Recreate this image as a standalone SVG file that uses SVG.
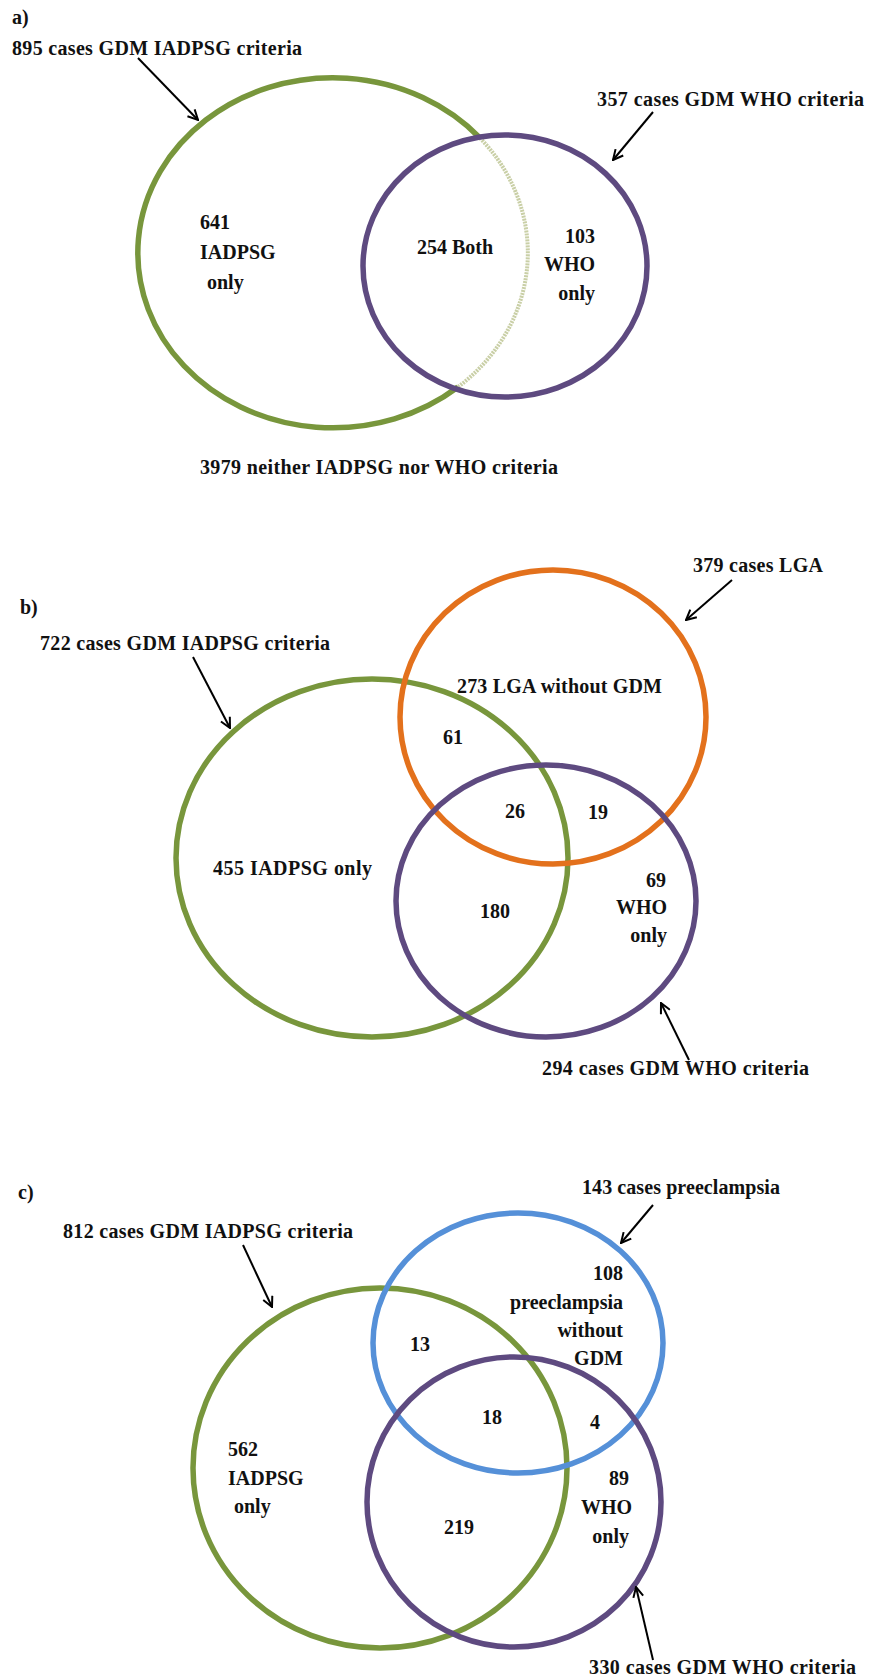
<svg xmlns="http://www.w3.org/2000/svg" width="870" height="1680" viewBox="0 0 870 1680">
<defs>
<marker id="arr" viewBox="0 0 12 12" refX="11" refY="6" markerWidth="12" markerHeight="12" markerUnits="userSpaceOnUse" orient="auto">
<path d="M1,1 L11,6 L1,11" fill="none" stroke="#000" stroke-width="2"/>
</marker>
</defs>
<style>
text{font-family:"Liberation Serif","Times New Roman",serif;font-weight:bold;font-size:20px;fill:#111}
.e{fill:none;stroke-width:5.5}
.g{stroke:#78963c}
.p{stroke:#5e4a80}
.o{stroke:#e3711c}
.b{stroke:#5590d8}
.pale{fill:none;stroke:#c9cfa6;stroke-width:4;stroke-dasharray:2 1}
.r{text-anchor:end}
.c line{stroke:#000;stroke-width:2;marker-end:url(#arr)}
</style>
<rect width="870" height="1680" fill="#fff"/>

<!-- Panel a -->
<g id="panel-a-label"><text x="12" y="24">a)</text></g>
<g id="a-iadpsg">
<path class="e g" d="M458,387 A195,175 0 1 1 480,138"/>
<path class="pale" d="M480,138 A195,175 0 0 1 458,387"/>
<text x="12" y="55" textLength="290">895 cases GDM IADPSG criteria</text>
<text x="200" y="229">641</text>
<text x="200" y="259">IADPSG</text>
<text x="207" y="289">only</text>
</g>
<g id="a-who">
<ellipse class="e p" cx="505" cy="266" rx="142" ry="131"/>
<text x="597" y="106" textLength="267">357 cases GDM  WHO criteria</text>
<text class="r" x="595" y="243">103</text>
<text class="r" x="595" y="271">WHO</text>
<text class="r" x="595" y="300">only</text>
</g>
<g id="a-both"><text x="417" y="254">254 Both</text></g>
<g id="a-neither"><text x="200" y="474" textLength="358">3979 neither IADPSG nor WHO criteria</text></g>

<!-- Panel b -->
<g id="panel-b-label"><text x="20" y="614">b)</text></g>
<g id="b-iadpsg">
<ellipse class="e g" cx="372" cy="858" rx="196" ry="179"/>
<text x="40" y="650" textLength="290">722 cases GDM IADPSG criteria</text>
<text x="213" y="875" textLength="159">455 IADPSG only</text>
</g>
<g id="b-lga">
<ellipse class="e o" cx="553" cy="717" rx="153" ry="147"/>
<text x="693" y="572" textLength="130">379 cases LGA</text>
<text x="457" y="693" textLength="205">273  LGA without GDM</text>
</g>
<g id="b-who">
<ellipse class="e p" cx="546" cy="901" rx="150" ry="136"/>
<text x="542" y="1075" textLength="267">294 cases GDM WHO criteria</text>
<text class="r" x="666" y="887">69</text>
<text class="r" x="667" y="914">WHO</text>
<text class="r" x="667" y="942">only</text>
</g>
<g id="b-overlaps">
<text x="443" y="744">61</text>
<text x="505" y="818">26</text>
<text x="588" y="819">19</text>
<text x="480" y="918">180</text>
</g>

<!-- Panel c -->
<g id="panel-c-label"><text x="18" y="1199">c)</text></g>
<g id="c-iadpsg">
<ellipse class="e g" cx="380" cy="1468" rx="187" ry="180"/>
<text x="63" y="1238" textLength="290">812 cases GDM IADPSG criteria</text>
<text x="228" y="1456">562</text>
<text x="228" y="1485">IADPSG</text>
<text x="234" y="1513">only</text>
</g>
<g id="c-preeclampsia">
<ellipse class="e b" cx="518" cy="1343" rx="145" ry="130"/>
<text x="582" y="1194" textLength="198">143 cases preeclampsia</text>
<text class="r" x="623" y="1280">108</text>
<text class="r" x="623" y="1309">preeclampsia</text>
<text class="r" x="623" y="1337">without</text>
<text class="r" x="623" y="1365">GDM</text>
</g>
<g id="c-who">
<ellipse class="e p" cx="514" cy="1502" rx="147" ry="145"/>
<text x="589" y="1674" textLength="267">330 cases GDM  WHO criteria</text>
<text class="r" x="629" y="1485">89</text>
<text class="r" x="632" y="1514">WHO</text>
<text class="r" x="629" y="1543">only</text>
</g>
<g id="c-overlaps">
<text x="410" y="1351">13</text>
<text x="482" y="1424">18</text>
<text x="590" y="1429">4</text>
<text x="444" y="1534">219</text>
</g>

<g id="connectors" class="c">
<line x1="138" y1="58" x2="198" y2="120"/>
<line x1="653" y1="112" x2="613" y2="160"/>
<line x1="193" y1="657" x2="230" y2="728"/>
<line x1="732" y1="580" x2="686" y2="620"/>
<line x1="689" y1="1060" x2="661" y2="1003"/>
<line x1="243" y1="1245" x2="272" y2="1307"/>
<line x1="653" y1="1205" x2="621" y2="1243"/>
<line x1="653" y1="1660" x2="636" y2="1587"/>
</g>
</svg>
